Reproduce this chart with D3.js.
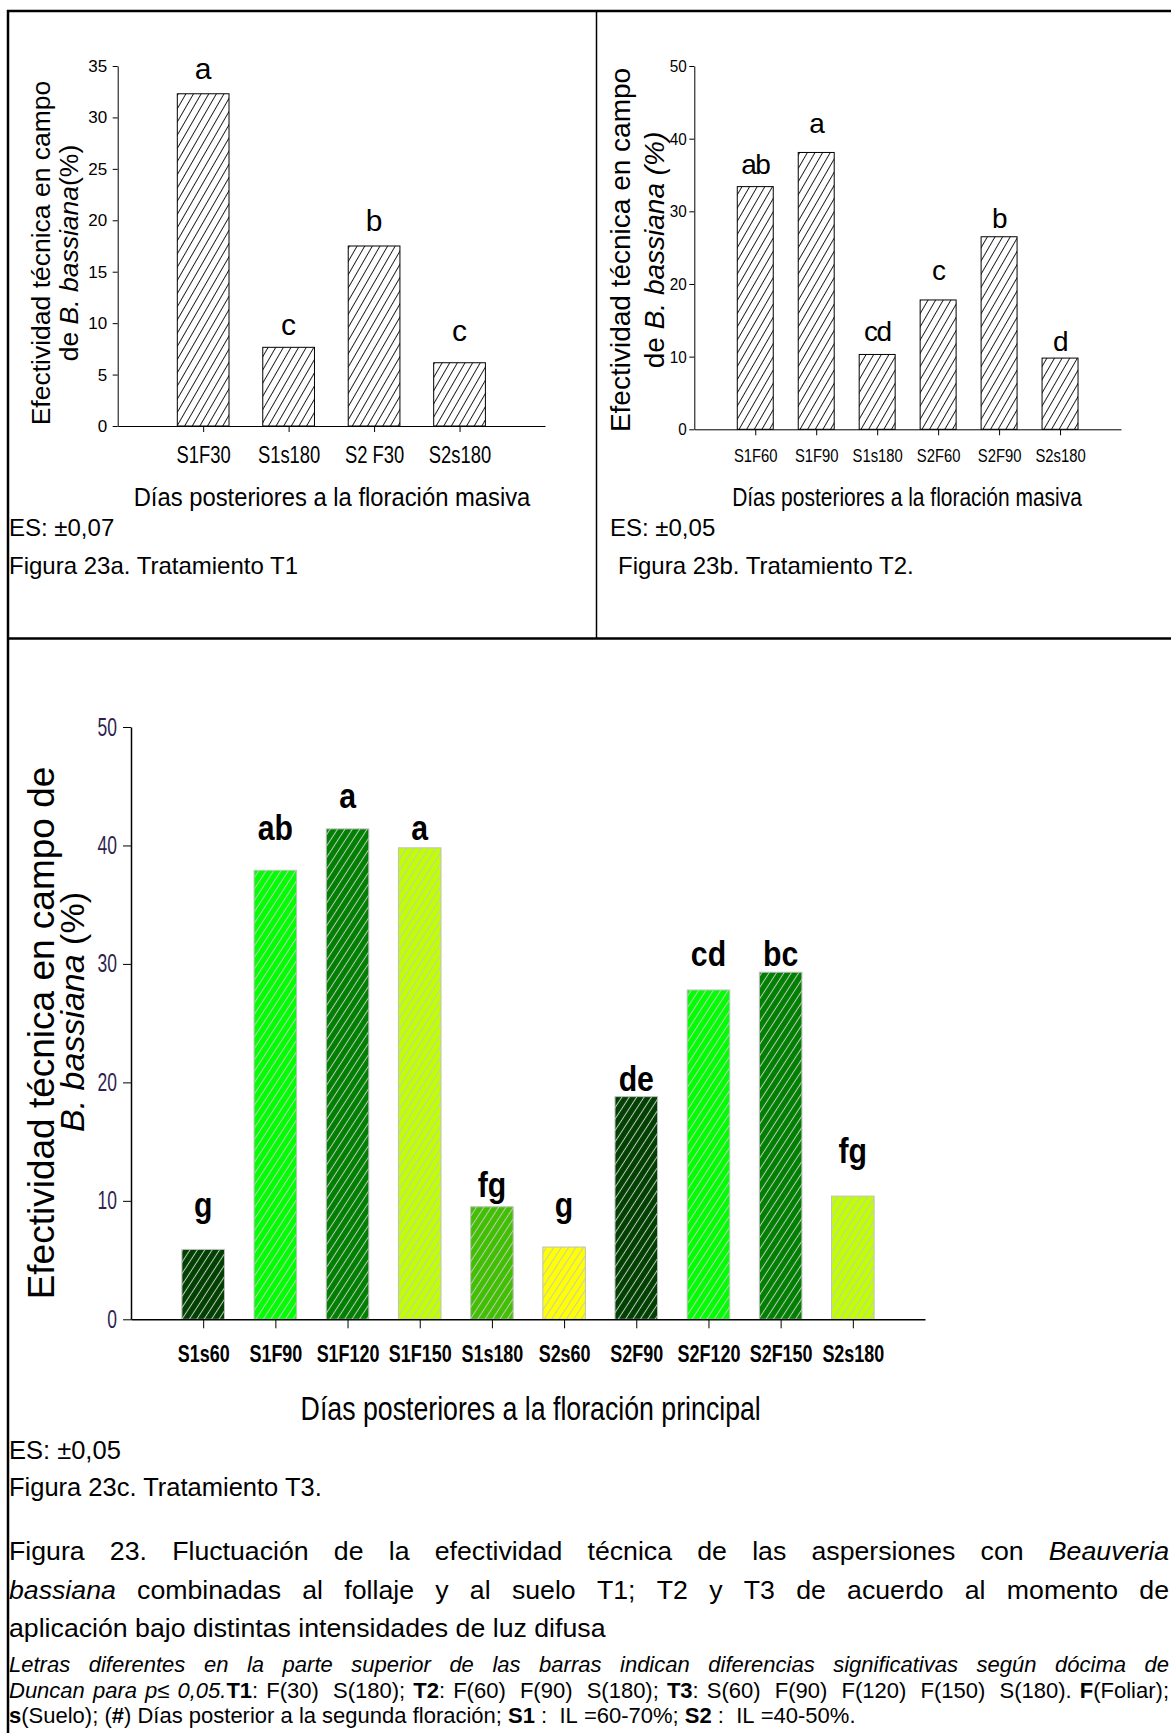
<!DOCTYPE html>
<html>
<head>
<meta charset="utf-8">
<script src="https://cdn.jsdelivr.net/npm/d3@7"></script>
<style>
  body { margin: 0; background: #fff; }
  svg { display: block; }
  text { font-family: "Liberation Sans", Arial, Helvetica, sans-serif; }
</style>
</head>
<body>
<svg id="fig" width="1171" height="1733"></svg>
<script>
// ---- Figura 23a: Tratamiento T1 ----
const t1Cats    = ["S1F30", "S1s180", "S2 F30", "S2s180"];
const t1Vals    = [32.3, 7.65, 17.5, 6.15];
const t1Letters = ["a", "c", "b", "c"];
const t1Ticks   = [0, 5, 10, 15, 20, 25, 30, 35];

// ---- Figura 23b: Tratamiento T2 ----
const t2Cats    = ["S1F60", "S1F90", "S1s180", "S2F60", "S2F90", "S2s180"];
const t2Vals    = [33.4, 38.1, 10.3, 17.8, 26.5, 9.8];
const t2Letters = ["ab", "a", "cd", "c", "b", "d"];
const t2Ticks   = [0, 10, 20, 30, 40, 50];

// ---- Figura 23c: Tratamiento T3 ----
const t3Cats    = ["S1s60", "S1F90", "S1F120", "S1F150", "S1s180", "S2s60", "S2F90", "S2F120", "S2F150", "S2s180"];
const t3Vals    = [5.9, 37.9, 41.4, 39.8, 9.5, 6.1, 18.8, 27.8, 29.3, 10.4];
const t3Letters = ["g", "ab", "a", "a", "fg", "g", "de", "cd", "bc", "fg"];
const t3Ticks   = [0, 10, 20, 30, 40, 50];

const svg = d3.select("#fig");
const defs = svg.append("defs");

// diagonal hatch fills
function hatch(id, color, step, angle, sw) {
  const p = defs.append("pattern")
    .attr("id", id).attr("patternUnits", "userSpaceOnUse")
    .attr("width", step).attr("height", step)
    .attr("patternTransform", `rotate(${angle})`);
  p.append("line")
    .attr("x1", step / 2).attr("y1", -1).attr("x2", step / 2).attr("y2", step + 1)
    .attr("stroke", color).attr("stroke-width", sw);
}
hatch("hatchBlack", "#111", 6.6, 30, 0.9);
hatch("hatchGrey", "#c6c6c6", 6.2, 33, 1);

// horizontally condensed text helper (keeps the anchor point fixed)
function condense(sel, sx) {
  sel.each(function () {
    const t = d3.select(this);
    const x = +t.attr("x") || 0;
    t.attr("x", x / sx).attr("transform", `scale(${sx},1)`);
  });
}

function barChart(o) {
  const g = svg.append("g");
  const x = d3.scalePoint().domain(o.cats).range(o.xr).padding(1);
  const y = d3.scaleLinear().domain([0, o.ymax]).range(o.yr);
  const bw = x.step() * o.bw;
  const rows = o.cats.map((c, i) => ({ c, v: o.vals[i], l: o.letters[i], i }));

  g.selectAll(".bar").data(rows).join("rect").attr("class", "bar")
    .attr("x", d => x(d.c) - bw / 2).attr("y", d => y(d.v))
    .attr("width", bw).attr("height", d => y(0) - y(d.v))
    .attr("fill", d => o.fill[d.i % o.fill.length]);
  g.selectAll(".hatch").data(rows).join("rect").attr("class", "hatch")
    .attr("x", d => x(d.c) - bw / 2).attr("y", d => y(d.v))
    .attr("width", bw).attr("height", d => y(0) - y(d.v))
    .attr("fill", `url(#${o.hatch})`)
    .attr("stroke", o.barStroke).attr("stroke-width", 1);

  const ya = g.append("g").attr("transform", `translate(${o.xr[0]},0)`)
    .call(d3.axisLeft(y).tickValues(o.ticks).tickSize(o.yTick).tickSizeOuter(0).tickPadding(o.yPad));
  const xa = g.append("g").attr("transform", `translate(0,${y(0)})`)
    .call(d3.axisBottom(x).tickSize(o.xTick).tickSizeOuter(0));

  [ya, xa].forEach(a => {
    a.select(".domain").attr("stroke", "#000").attr("stroke-width", o.axisW);
    a.selectAll(".tick line").attr("stroke", "#000").attr("stroke-width", 1);
  });

  ya.selectAll(".tick text")
    .attr("font-size", o.yFont).attr("fill", o.yColor);
  condense(ya.selectAll(".tick text"), o.ySx);

  xa.selectAll(".tick text")
    .attr("y", o.xLabelY).attr("dy", 0)
    .attr("font-size", o.xFont).attr("font-weight", o.xWeight).attr("fill", "#000");
  condense(xa.selectAll(".tick text"), o.xSx);

  g.selectAll(".letter").data(rows).join("text").attr("class", "letter")
    .attr("text-anchor", "middle")
    .attr("transform", d => `translate(${x(d.c)},${y(d.v) - o.gaps[d.i]}) scale(${o.lSx},1)`)
    .attr("font-size", o.lFont).attr("font-weight", o.lWeight)
    .attr("letter-spacing", o.lSpacing)
    .attr("fill", "#000")
    .text(d => d.l);
  return { x, y };
}

// rotated axis title, one text per line
function yTitle(lines) {
  lines.forEach(line => {
    const t = svg.append("text")
      .attr("text-anchor", "middle").attr("font-size", line.size).attr("fill", "#000")
      .attr("transform", `translate(${line.bx},${line.cy}) rotate(-90)`);
    line.segs.forEach(([s, st]) => t.append("tspan").attr("font-style", st === "i" ? "italic" : "normal").text(s));
  });
}

// centred text squeezed to a given width
function fitText(cx, by, str, size, width, weight) {
  const t = svg.append("text").attr("font-size", size)
    .attr("font-weight", weight || "normal").attr("fill", "#000").text(str);
  const L = t.node().getComputedTextLength();
  t.attr("text-anchor", "middle").attr("transform", `translate(${cx},${by}) scale(${width / L},1)`);
}

// ---- frame ----
const frame = svg.append("g").attr("stroke", "#000");
frame.append("line").attr("x1", 8).attr("y1", 10).attr("x2", 8).attr("y2", 1733).attr("stroke-width", 2.5);
frame.append("line").attr("x1", 7).attr("y1", 11).attr("x2", 1171).attr("y2", 11).attr("stroke-width", 2.5);
frame.append("line").attr("x1", 596.5).attr("y1", 11).attr("x2", 596.5).attr("y2", 638).attr("stroke-width", 1.5);
frame.append("line").attr("x1", 7).attr("y1", 638.5).attr("x2", 1171).attr("y2", 638.5).attr("stroke-width", 2.5);

// ---- chart T1 ----
barChart({
  cats: t1Cats, vals: t1Vals, letters: t1Letters, ticks: t1Ticks, ymax: 35,
  xr: [117.7, 545], yr: [426, 66], bw: 0.605,
  fill: ["#fff"], hatch: "hatchBlack", barStroke: "#000", axisW: 1,
  yTick: 5, yPad: 5.5, yFont: 17, yColor: "#000", ySx: 1,
  xTick: 6, xLabelY: 37, xFont: 23, xWeight: "normal", xSx: 0.8,
  gaps: [15, 12, 15, 22], lFont: 30, lWeight: "normal", lSx: 1, lSpacing: 0
});
yTitle([
  { bx: 50, cy: 253, size: 26.5, segs: [["Efectividad técnica en campo", ""]] },
  { bx: 77.7, cy: 253, size: 26.5, segs: [["de ", ""], ["B. bassiana", "i"], ["(%)", ""]] }
]);
fitText(332, 506, "Días posteriores a la floración masiva", 26, 397);

// ---- chart T2 ----
barChart({
  cats: t2Cats, vals: t2Vals, letters: t2Letters, ticks: t2Ticks, ymax: 50,
  xr: [694.3, 1121], yr: [429.3, 66], bw: 0.59,
  fill: ["#fff"], hatch: "hatchBlack", barStroke: "#000", axisW: 1,
  yTick: 5, yPad: 2.5, yFont: 17, yColor: "#000", ySx: 0.9,
  xTick: 6, xLabelY: 33, xFont: 19, xWeight: "normal", xSx: 0.78,
  gaps: [13, 19, 13, 20, 9, 7], lFont: 28, lWeight: "normal", lSx: 1, lSpacing: -1.5
});
yTitle([
  { bx: 630, cy: 250, size: 28, segs: [["Efectividad técnica en campo", ""]] },
  { bx: 664, cy: 250, size: 28, segs: [["de ", ""], ["B. bassiana (%)", "i"]] }
]);
fitText(907, 506, "Días posteriores a la floración masiva", 26, 350);

// ---- chart T3 ----
const t3Fill = ["#004000", "#00ff00", "#008000", "#c0ff00", "#40c000",
                "#ffff00", "#004000", "#00ff00", "#008000", "#c0ff00"];
barChart({
  cats: t3Cats, vals: t3Vals, letters: t3Letters, ticks: t3Ticks, ymax: 50,
  xr: [131, 925], yr: [1319.3, 727], bw: 0.59,
  fill: t3Fill, hatch: "hatchGrey", barStroke: "#c0c0c0", axisW: 1.5,
  yTick: 8, yPad: 6, yFont: 25, yColor: "#2e1f4f", ySx: 0.7,
  xTick: 9, xLabelY: 43, xFont: 23, xWeight: "bold", xSx: 0.78,
  gaps: [32, 30, 21, 8, 10, 30, 6, 24, 6, 33], lFont: 36, lWeight: "bold", lSx: 0.84, lSpacing: 0
});
yTitle([
  { bx: 54, cy: 1033, size: 37, segs: [["Efectividad técnica en campo de", ""]] },
  { bx: 84, cy: 1012, size: 34, segs: [["B. bassiana", "i"], [" (%)", ""]] }
]);
fitText(530.7, 1420, "Días posteriores a la floración principal", 32.6, 460);

// ---- captions ----
function plain(x, y, str, size) {
  svg.append("text").attr("x", x).attr("y", y).attr("font-size", size).attr("fill", "#000").text(str);
}
plain(9, 536, "ES: ±0,07", 24);
plain(9, 574, "Figura 23a. Tratamiento T1", 24);
plain(610, 536, "ES: ±0,05", 24);
plain(618, 574, "Figura 23b. Tratamiento T2.", 24);
plain(9, 1459, "ES: ±0,05", 25.5);
plain(9, 1496, "Figura 23c. Tratamiento T3.", 25.5);

// caption paragraph, word by word so lines can be justified
function textLine(segs, x0, y, width, justify, size) {
  const words = [];
  let cur = null, spaces = 0;
  segs.forEach(([txt, st]) => {
    txt.split(/( +)/).forEach(p => {
      if (!p) return;
      if (p[0] === " ") { if (cur) { words.push(cur); cur = null; } spaces += p.length; }
      else { if (!cur) { cur = { segs: [], spaces }; spaces = 0; } cur.segs.push([p, st]); }
    });
  });
  if (cur) words.push(cur);
  const spaceW = 0.278 * size;
  words.forEach(w => {
    w.node = svg.append("text").attr("y", y).attr("font-size", size).attr("fill", "#000");
    w.segs.forEach(([s, st]) => w.node.append("tspan")
      .attr("font-weight", st.includes("b") ? "bold" : "normal")
      .attr("font-style", st.includes("i") ? "italic" : "normal")
      .text(s));
    w.w = w.node.node().getComputedTextLength();
  });
  const natural = d3.sum(words, w => w.w) + d3.sum(words.slice(1), w => w.spaces * spaceW);
  const extra = justify && words.length > 1 ? (width - natural) / (words.length - 1) : 0;
  let x = x0;
  words.forEach((w, i) => {
    if (i > 0) x += w.spaces * spaceW + extra;
    w.node.attr("x", x);
    x += w.w;
  });
}

const capX = 9, capW = 1160;
textLine([["Figura 23. Fluctuación de la efectividad técnica de las aspersiones con ", ""], ["Beauveria", "i"]], capX, 1560, capW, true, 26.7);
textLine([["bassiana", "i"], [" combinadas al follaje y al suelo T1; T2 y T3 de acuerdo al momento de", ""]], capX, 1599, capW, true, 26.7);
textLine([["aplicación bajo distintas intensidades de luz difusa", ""]], capX, 1637, capW, false, 26.7);
textLine([["Letras diferentes en la parte superior de las barras indican diferencias significativas según dócima de", "i"]], capX, 1672, capW, true, 22);
textLine([["Duncan para p≤ 0,05.", "i"], ["T1", "b"], [": F(30)  S(180); ", ""], ["T2", "b"], [": F(60)  F(90)  S(180); ", ""],
          ["T3", "b"], [": S(60)  F(90)  F(120)  F(150)  S(180). ", ""], ["F", "b"], ["(Foliar);", ""]], capX, 1698, capW, true, 22);
textLine([["s", "b"], ["(Suelo); (", ""], ["#", "b"], [") Días posterior a la segunda floración; ", ""], ["S1", "b"],
          [" :  IL =60-70%; ", ""], ["S2", "b"], [" :  IL =40-50%.", ""]], capX, 1723, capW, false, 22);
</script>
</body>
</html>
